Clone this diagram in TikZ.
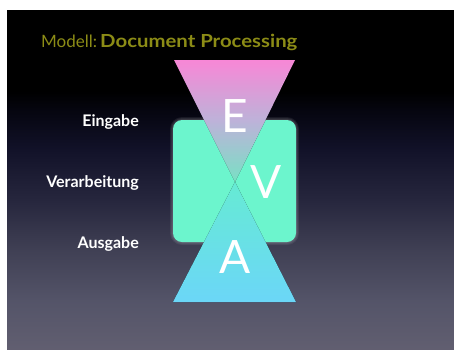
\documentclass[tikz,border=0pt]{standalone}
\usepackage{fontspec}
\setmainfont{Lato}
\definecolor{olivetitle}{RGB}{140,140,22}
\definecolor{mint}{RGB}{108,245,205}
% backdrop: black on top, fading to a grey violet at the bottom
\pgfdeclareverticalshading{backdrop}{100bp}{%
  rgb(0bp)=(0.38,0.37,0.44);
  rgb(25bp)=(0.38,0.37,0.44);
  rgb(32bp)=(0.33,0.33,0.41);
  rgb(39.6bp)=(0.25,0.25,0.33);
  rgb(47bp)=(0.15,0.15,0.24);
  rgb(54.4bp)=(0.07,0.07,0.16);
  rgb(60.3bp)=(0.02,0.02,0.06);
  rgb(63bp)=(0,0,0);
  rgb(100bp)=(0,0,0)}
% upper funnel: pink fading to teal
\pgfdeclareverticalshading{funneltop}{100bp}{%
  rgb(0bp)=(0.47,0.88,0.77);
  rgb(25bp)=(0.47,0.88,0.77);
  rgb(50bp)=(0.74,0.70,0.85);
  rgb(75bp)=(0.97,0.53,0.84);
  rgb(100bp)=(0.97,0.53,0.84)}
% lower funnel: teal fading to sky blue
\pgfdeclareverticalshading{funnelbottom}{100bp}{%
  rgb(0bp)=(0.42,0.84,0.97);
  rgb(25bp)=(0.42,0.84,0.97);
  rgb(75bp)=(0.40,0.92,0.83);
  rgb(100bp)=(0.40,0.92,0.83)}
\tikzset{
  headline/.style={text=olivetitle,font=\fontsize{17}{20}\selectfont,inner sep=0,anchor=base west},
  steplabel/.style={text=white,font=\bfseries\fontsize{16}{19}\selectfont,inner sep=0,anchor=base east},
  bigletter/.style={text=white,font=\fontsize{46}{50}\selectfont,inner sep=0,anchor=base},
  tshadow/.style={fill=black,fill opacity=0.22},
}
\begin{document}
\begin{tikzpicture}[x=1pt,y=-1pt]
\useasboundingbox (0,0) rectangle (454,349);
\fill[white] (0,0) rectangle (454,349);
\shade[shading=backdrop] (7,10) rectangle (454,349);

% triangle corners
\coordinate (tl) at (174,60);
\coordinate (tr) at (295,60);
\coordinate (mid) at (235,182);
\coordinate (bl) at (173,302);
\coordinate (br) at (296,302);

% processing block with a soft halo
\foreach \g in {3,2,1}
  \fill[white,fill opacity=0.07,rounded corners=9+\g] (173-\g,120-\g) rectangle (296+\g,242+\g);
\fill[mint,rounded corners=9] (173,120) rectangle (296,242);

% upper funnel with its shadow
\foreach \s in {1,2,3,4}
  \fill[tshadow,shift={(-\s,0.5*\s)}] (tl) -- (tr) -- (mid) -- cycle;
\shade[shading=funneltop] (tl) -- (tr) -- (mid) -- cycle;

% lower funnel with its shadow
\foreach \s in {1,2,3,4}
  \fill[tshadow,shift={(-\s,0.5*\s)}] (mid) -- (br) -- (bl) -- cycle;
\shade[shading=funnelbottom] (mid) -- (br) -- (bl) -- cycle;

% letters
\node[bigletter] (E) at (235,132) {E};
\node[bigletter] (V) at (266,198) {V};
\node[bigletter] (A) at (235,273) {A};

% title
\node[headline] (model) at (41,47) {Modell:};
\node[headline,font=\bfseries\fontsize{18}{21}\selectfont,xscale=1.13] (doc) at (100,47) {Document Processing};

% side labels
\node[steplabel] (in) at (139,126) {Eingabe};
\node[steplabel] (proc) at (139,187) {Verarbeitung};
\node[steplabel] (out) at (139,248) {Ausgabe};
\end{tikzpicture}
\end{document}
